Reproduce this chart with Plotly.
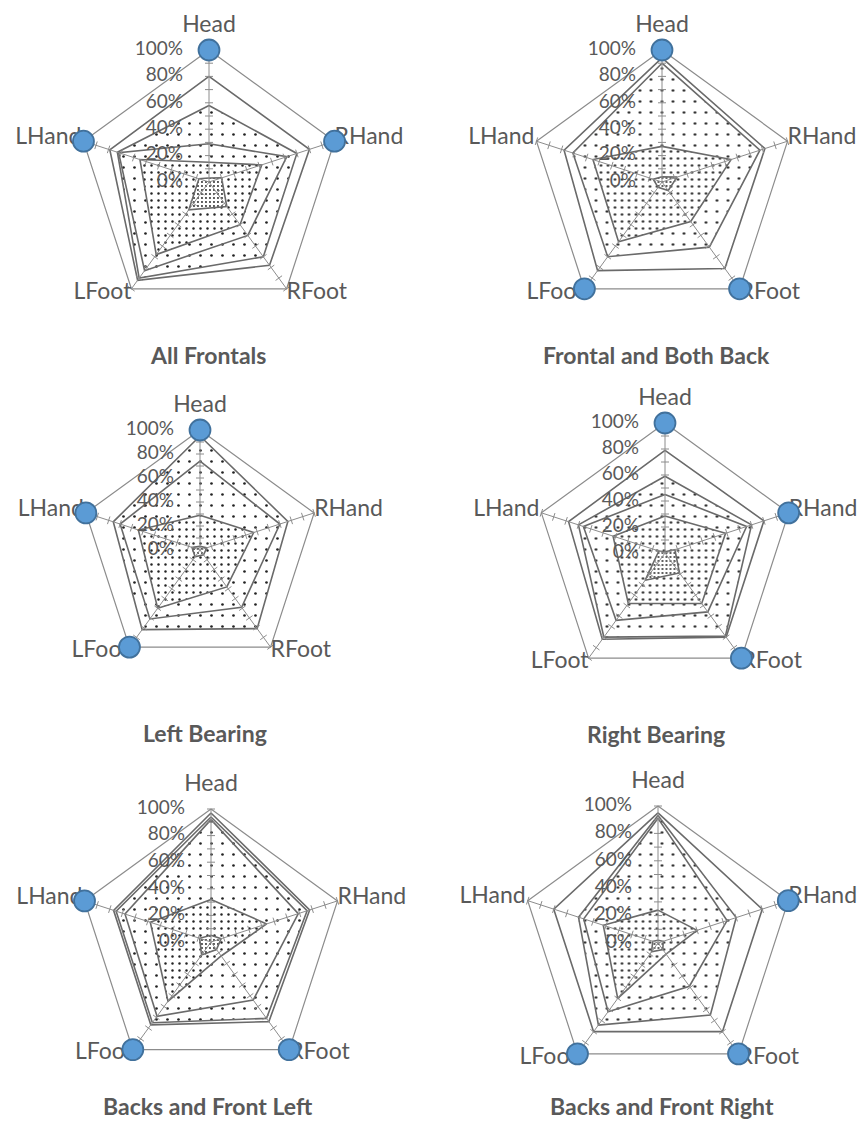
import numpy as np
import plotly.graph_objects as go

# ------------------------------------------------------------------
# DATA  (order: Head, RHand, RFoot, LFoot, LHand)
# ------------------------------------------------------------------
CATEGORIES = ["Head", "RHand", "RFoot", "LFoot", "LHand"]
RADIAL_TICKS = [0.0, 0.2, 0.4, 0.6, 0.8, 1.0]
RADIAL_LABELS = ["0%", "20%", "40%", "60%", "80%", "100%"]
MINOR_TICKS = [0.1, 0.2, 0.3, 0.4, 0.5, 0.6, 0.7, 0.8, 0.9, 1.0]
MAX_LINE = [1.0, 1.0, 1.0, 1.0, 1.0]

TITLES = [
    "All Frontals",
    "Frontal and Both Back",
    "Left Bearing",
    "Right Bearing",
    "Backs and Front Left",
    "Backs and Front Right",
]

all_frontals = [
    [0.80, 0.80, 0.78, 0.92, 0.79],
    [0.58, 0.70, 0.70, 0.90, 0.73],
    [0.29, 0.62, 0.50, 0.83, 0.72],
    [0.15, 0.42, 0.40, 0.68, 0.55],
    [0.03, 0.10, 0.23, 0.26, 0.08],
]
frontal_both_back = [
    [0.94, 0.82, 0.81, 0.83, 0.78],
    [0.90, 0.78, 0.61, 0.70, 0.71],
    [0.27, 0.55, 0.37, 0.56, 0.55],
    [0.04, 0.12, 0.08, 0.05, 0.07],
]
left_bearing = [
    [0.95, 0.77, 0.81, 0.82, 0.76],
    [0.74, 0.70, 0.59, 0.71, 0.70],
    [0.29, 0.47, 0.38, 0.60, 0.54],
    [0.03, 0.06, 0.05, 0.07, 0.07],
]
right_bearing = [
    [0.79, 0.80, 0.80, 0.82, 0.78],
    [0.59, 0.70, 0.79, 0.80, 0.70],
    [0.45, 0.66, 0.56, 0.64, 0.66],
    [0.285, 0.49, 0.48, 0.48, 0.42],
    [0.01, 0.08, 0.19, 0.26, 0.05],
]
backs_front_left = [
    [0.97, 0.78, 0.74, 0.77, 0.77],
    [0.94, 0.76, 0.71, 0.75, 0.75],
    [0.92, 0.69, 0.54, 0.69, 0.68],
    [0.32, 0.44, 0.13, 0.55, 0.48],
    [0.05, 0.08, 0.07, 0.12, 0.09],
]
backs_front_right = [
    [0.95, 0.80, 0.80, 0.80, 0.80],
    [0.93, 0.60, 0.65, 0.74, 0.61],
    [0.91, 0.53, 0.39, 0.62, 0.57],
    [0.24, 0.30, 0.10, 0.50, 0.42],
    [0.02, 0.04, 0.06, 0.08, 0.04],
]

all_frontals_marked = ["Head", "RHand", "LHand"]
frontal_both_back_marked = ["Head", "RFoot", "LFoot"]
left_bearing_marked = ["Head", "LFoot", "LHand"]
right_bearing_marked = ["Head", "RHand", "RFoot"]
backs_front_left_marked = ["RFoot", "LFoot", "LHand"]
backs_front_right_marked = ["RHand", "RFoot", "LFoot"]

# ------------------------------------------------------------------
# STYLE / LAYOUT
# ------------------------------------------------------------------
PAGE_OFFSET = 8          # default body margin of the html page
W, H = 865 - PAGE_OFFSET, 1121 - PAGE_OFFSET
COLS = [(0.0, W / 2), (W / 2, W)]
ROWS = [(0.0, H / 3), (H / 3, 2 * H / 3), (2 * H / 3, H)]

TEXT = "#595959"
LINE = "#6a6a6a"
AXIS = "#8c8c8c"
FONT = "Lato"

PATTERNS = {
    "sparse": dict(size=11, solidity=0.045),
    "medium": dict(size=7, solidity=0.1),
    "dense": dict(size=4, solidity=0.18),
}

# centres / radii / title spots are page pixels
PANELS = [
    dict(series=all_frontals, marked=all_frontals_marked, cx=209, cy=182, R=132,
         fills=[None, "sparse", "sparse", "medium", "dense"], title_at=(208, 355)),
    dict(series=frontal_both_back, marked=frontal_both_back_marked, cx=662, cy=182, R=132,
         fills=[None, "sparse", "medium", "dense"], title_at=(656, 355)),
    dict(series=left_bearing, marked=left_bearing_marked, cx=200, cy=550, R=120,
         fills=["sparse", "sparse", "medium", "dense"], title_at=(205, 733)),
    dict(series=right_bearing, marked=right_bearing_marked, cx=665, cy=553, R=130,
         fills=[None, "sparse", "sparse", "medium", "dense"], title_at=(656, 734)),
    dict(series=backs_front_left, marked=backs_front_left_marked, cx=211, cy=942, R=133,
         fills=[None, "sparse", "sparse", "medium", "dense"], title_at=(208, 1106)),
    dict(series=backs_front_right, marked=backs_front_right_marked, cx=658, cy=943, R=137,
         fills=[None, "sparse", "sparse", "medium", "dense"], title_at=(662, 1106)),
]

# label placement relative to the 100% vertex, in pixels (dx, dy up) + text position
LABEL_PLACE = {
    "Head": (0, 12, "top center"),
    "RHand": (0, 3, "middle right"),
    "RFoot": (0, -4, "middle right"),
    "LFoot": (0, -4, "middle left"),
    "LHand": (-2, 3, "middle left"),
}

ANGLES = np.deg2rad(90 - 72 * np.arange(len(CATEGORIES)))
UX, UY = np.cos(ANGLES), np.sin(ANGLES)


def to_xy(values, closed=True):
    r = np.asarray(values, dtype=float)
    x, y = r * UX, r * UY
    if closed:
        x, y = np.append(x, x[0]), np.append(y, y[0])
    return x, y


def spoke_lines(tick_half):
    xs, ys = [], []
    for ux, uy in zip(UX, UY):
        xs += [0, ux, None]
        ys += [0, uy, None]
        for t in MINOR_TICKS:
            px, py = -uy * tick_half, ux * tick_half
            xs += [t * ux - px, t * ux + px, None]
            ys += [t * uy - py, t * uy + py, None]
    return xs, ys


fig = go.Figure()
layout = {}

for i, p in enumerate(PANELS):
    n = i + 1
    sfx = "" if n == 1 else str(n)
    xa, ya = f"x{sfx}", f"y{sfx}"
    R = p["R"]
    cx, cy = p["cx"] - PAGE_OFFSET, p["cy"] - PAGE_OFFSET
    px0, px1 = COLS[i % 2]
    py0, py1 = ROWS[i // 2]

    layout[f"xaxis{sfx}"] = dict(domain=[px0 / W, px1 / W], range=[(px0 - cx) / R, (px1 - cx) / R],
                                 visible=False, fixedrange=True, anchor=ya)
    layout[f"yaxis{sfx}"] = dict(domain=[1 - py1 / H, 1 - py0 / H], range=[(cy - py1) / R, (cy - py0) / R],
                                 visible=False, fixedrange=True, anchor=xa)

    # outer 100% line
    x, y = to_xy(MAX_LINE)
    fig.add_trace(go.Scatter(x=x, y=y, mode="lines", line=dict(color=AXIS, width=1.2),
                             xaxis=xa, yaxis=ya, hoverinfo="skip"))

    # data series
    for k, (vals, fill) in enumerate(zip(p["series"], p["fills"])):
        x, y = to_xy(vals)
        kw = dict(x=x, y=y, mode="lines", line=dict(color=LINE, width=1.6),
                  xaxis=xa, yaxis=ya, name=f"Series {k + 1}",
                  customdata=CATEGORIES + [CATEGORIES[0]],
                  hovertemplate="%{customdata}<extra></extra>")
        if fill:
            kw.update(fill="toself", fillcolor="white",
                      fillpattern=dict(shape=".", fgcolor="#222222", bgcolor="white",
                                       fillmode="replace", **PATTERNS[fill]))
        fig.add_trace(go.Scatter(**kw))

    # spokes and tick marks
    sx, sy = spoke_lines(4.0 / R)
    fig.add_trace(go.Scatter(x=sx, y=sy, mode="lines", line=dict(color=AXIS, width=1),
                             xaxis=xa, yaxis=ya, hoverinfo="skip"))

    # radial value labels
    fig.add_trace(go.Scatter(x=[-26.0 / R] * len(RADIAL_TICKS), y=RADIAL_TICKS, mode="text",
                             text=RADIAL_LABELS, textposition="middle left",
                             textfont=dict(family=FONT, size=19, color=TEXT),
                             xaxis=xa, yaxis=ya, hoverinfo="skip"))

    # category labels
    vx, vy = to_xy(MAX_LINE, closed=False)
    for cat, x0, y0 in zip(CATEGORIES, vx, vy):
        dx, dy, pos = LABEL_PLACE[cat]
        fig.add_trace(go.Scatter(x=[x0 + dx / R], y=[y0 + dy / R], mode="text", text=[cat],
                                 textposition=pos, textfont=dict(family=FONT, size=23, color=TEXT),
                                 xaxis=xa, yaxis=ya, hoverinfo="skip"))

    # highlighted body parts
    idx = [CATEGORIES.index(c) for c in p["marked"]]
    mx, my = vx[idx], vy[idx]
    fig.add_trace(go.Scatter(x=mx, y=my, mode="markers",
                             marker=dict(size=21, color="#5b9bd5", line=dict(color="#41719c", width=1.8)),
                             xaxis=xa, yaxis=ya, hoverinfo="skip"))

annotations = [
    dict(x=(tx - PAGE_OFFSET) / W, y=1 - (ty - PAGE_OFFSET) / H, xref="paper", yref="paper",
         text=f"<b>{t}</b>", showarrow=False, xanchor="center", yanchor="middle",
         font=dict(family=FONT, size=23, color=TEXT))
    for t, (tx, ty) in zip(TITLES, [p["title_at"] for p in PANELS])
]

fig.update_layout(
    **layout,
    width=W,
    height=H,
    margin=dict(l=0, r=0, t=0, b=0),
    paper_bgcolor="white",
    plot_bgcolor="white",
    showlegend=False,
    annotations=annotations,
)

fig.write_html("out.html")
